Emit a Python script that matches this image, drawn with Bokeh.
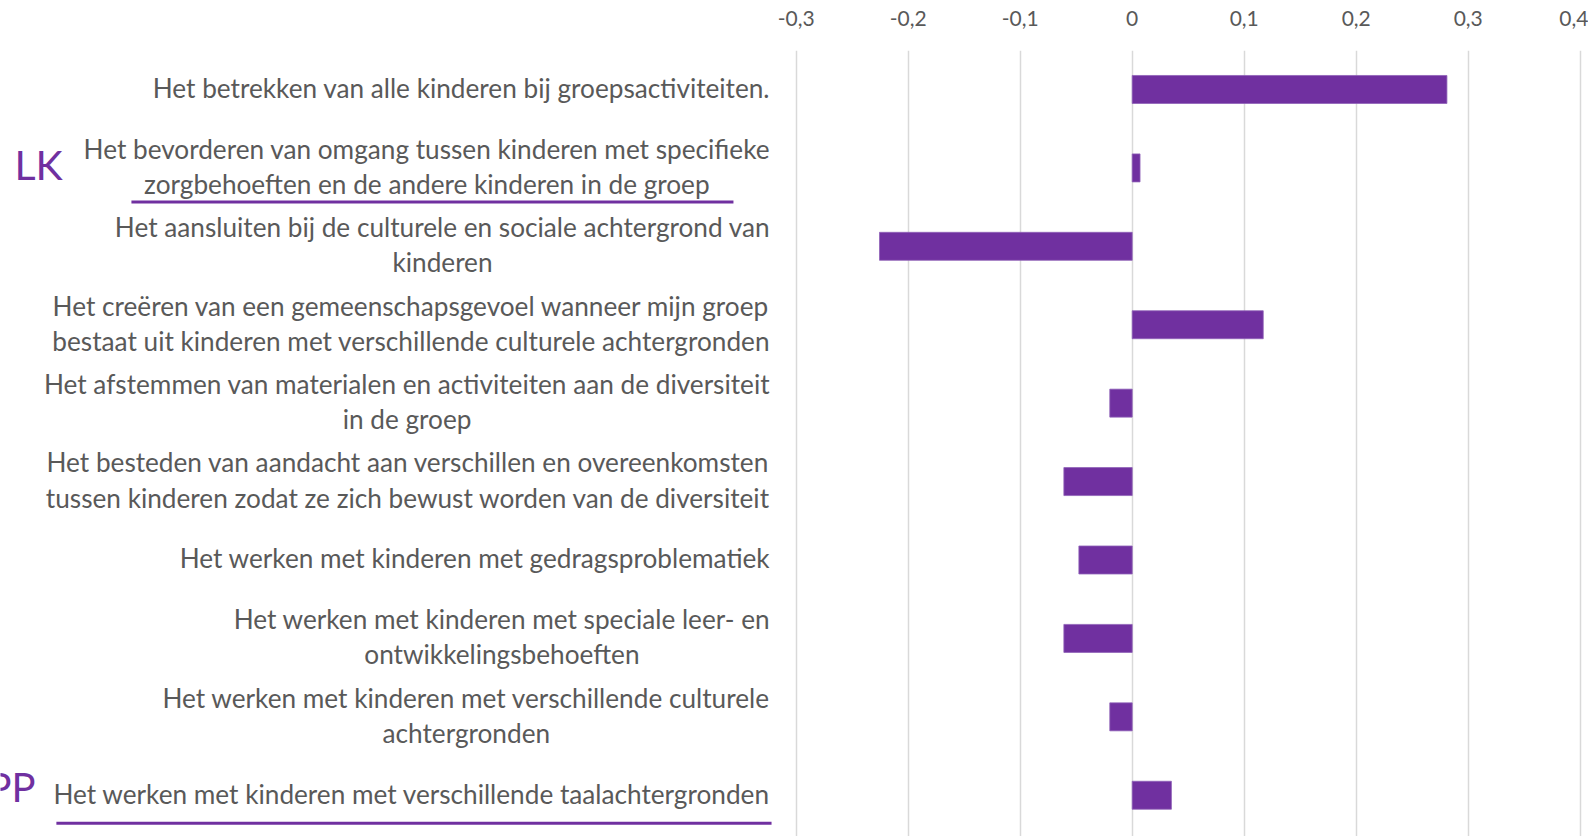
from bokeh.plotting import figure
from bokeh.models import Range1d, FixedTicker, ColumnDataSource
from bokeh.core.properties import value
from bokeh.embed import file_html
from bokeh.resources import INLINE

categories = [
    "Het betrekken van alle kinderen bij groepsactiviteiten.",
    "Het bevorderen van omgang tussen kinderen met specifieke\nzorgbehoeften en de andere kinderen in de groep",
    "Het aansluiten bij de culturele en sociale achtergrond van\nkinderen",
    "Het creëren van een gemeenschapsgevoel wanneer mijn groep\nbestaat uit kinderen met verschillende culturele achtergronden",
    "Het afstemmen van materialen en activiteiten aan de diversiteit\nin de groep",
    "Het besteden van aandacht aan verschillen en overeenkomsten\ntussen kinderen zodat ze zich bewust worden van de diversiteit",
    "Het werken met kinderen met gedragsproblematiek",
    "Het werken met kinderen met speciale leer- en\nontwikkelingsbehoeften",
    "Het werken met kinderen met verschillende culturele\nachtergronden",
    "Het werken met kinderen met verschillende taalachtergronden",
]
values = [0.281, 0.007, -0.2256, 0.117, -0.020, -0.061, -0.0476, -0.061, -0.020, 0.035]
ticks = [-0.3, -0.2, -0.1, 0.0, 0.1, 0.2, 0.3, 0.4]
tick_labels = ["-0,3", "-0,2", "-0,1", "0", "0,1", "0,2", "0,3", "0,4"]
group_marks = ["LK", "PP"]
group_rows = [1, 9]

PURPLE = "#7030A0"
GREY = "#595959"
FONT = "Lato"

idx = list(range(len(categories)))
src = ColumnDataSource(dict(
    y=idx,
    left=[min(0, v) for v in values],
    right=[max(0, v) for v in values],
    label=categories,
))

p = figure(
    width=1588, height=836,
    x_range=Range1d(-1.0104, 0.4074),
    y_range=Range1d(9.526, -0.497),
    x_axis_location="above", y_axis_location=None,
    toolbar_location=None, output_backend="svg",
    min_border_left=0, min_border_right=0, min_border_bottom=0, min_border_top=50,
)
p.outline_line_color = None
p.ygrid.visible = False

ax = p.xaxis[0]
ax.ticker = FixedTicker(ticks=ticks)
ax.major_label_overrides = {t: l for t, l in zip(ticks, tick_labels)}
ax.axis_line_color = None
ax.major_tick_line_color = None
ax.minor_tick_line_color = None
ax.major_label_standoff = 19
ax.major_label_text_font = FONT
ax.major_label_text_font_size = "21px"
ax.major_label_text_color = GREY

p.xgrid.ticker = FixedTicker(ticks=ticks)
p.xgrid.grid_line_color = "#D9D9D9"
p.xgrid.grid_line_width = 1.5

p.hbar(y="y", left="left", right="right", height=0.357, source=src,
       fill_color=PURPLE, line_color="#8F62B8", line_width=0.8)

# category labels: block right-aligned, lines centred
p.text(x=ticks[0], y="y", text="label", source=src,
       x_offset=-26, y_offset=-1.5, text_align="center", anchor="center_right",
       text_baseline="middle", text_font=value(FONT),
       text_font_size="26.2px", text_color=GREY, text_line_height=1.1)

# group marks
p.text(x=[-0.998, -1.022], y=[0.955, 8.9], text=group_marks,
       text_align="left", text_baseline="middle", text_font=value(FONT),
       text_font_size=["41px", "40px"], text_color=PURPLE)

# underlines
p.segment(x0=[-0.8935, -0.9605], y0=[group_rows[0] + 0.435, group_rows[1] + 0.356],
          x1=[-0.356, -0.322], y1=[group_rows[0] + 0.435, group_rows[1] + 0.356],
          line_color=PURPLE, line_width=3)

open("out.html", "w").write(file_html(p, INLINE))
